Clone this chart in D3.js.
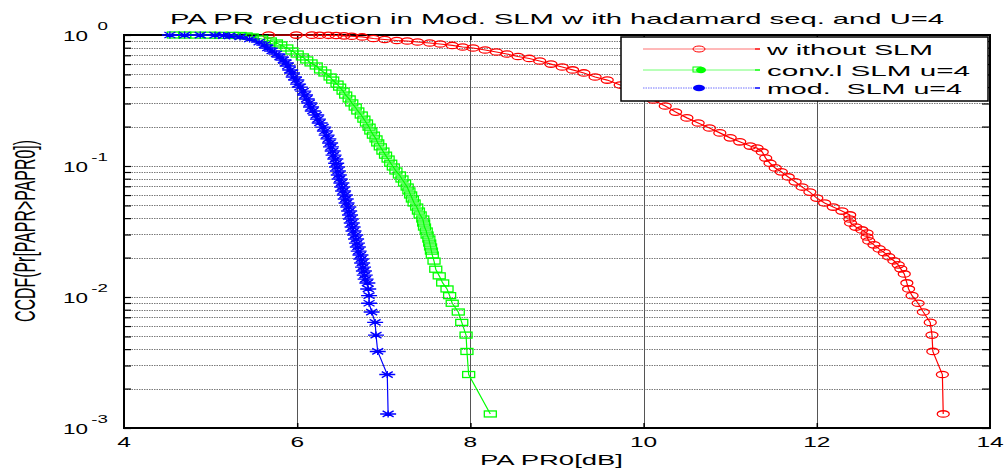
<!DOCTYPE html>
<html>
<head>
<meta charset="utf-8">
<script src="https://cdn.jsdelivr.net/npm/d3@7"></script>
<style>
  body { margin: 0; background: #fff; }
  svg text { font-family: "Liberation Sans", Arial, sans-serif; fill: #000; white-space: pre; }
</style>
</head>
<body>
<div id="chart"></div>
<script>
const width = 1008;
const height = 468;
const plot = {left: 124, right: 990, top: 35, bottom: 428};

const titleText = "PA PR reduction in Mod. SLM w ith hadamard seq. and U=4";
const xLabel = "PA PR0[dB]";
const yLabel = "CCDF(Pr[PAPR>PAPR0])";
const seriesNames = ["w ithout SLM", "conv.l SLM u=4", "mod.  SLM u=4"];
const xTicks = [4, 6, 8, 10, 12, 14];
const xGrid = [6, 8, 10, 12];
const yDecades = [1, 1e-1, 1e-2, 1e-3];
const yExponents = ["0", "-1", "-2", "-3"];

// [PAPR0 (dB), CCDF]
const withoutSLM = [
  [5.67, 1.0], [5.99, 0.9987], [6.17, 0.9974], [6.26, 0.996], [6.36, 0.995], [6.45, 0.991],
  [6.54, 0.985], [6.63, 0.978], [6.75, 0.966], [6.88, 0.940], [7.01, 0.924], [7.15, 0.908],
  [7.27, 0.900], [7.39, 0.884], [7.53, 0.869], [7.65, 0.854], [7.79, 0.832], [7.91, 0.810],
  [8.03, 0.796], [8.17, 0.768], [8.30, 0.742], [8.42, 0.716], [8.55, 0.685], [8.68, 0.662],
  [8.80, 0.633], [8.93, 0.600], [9.06, 0.570], [9.18, 0.541], [9.31, 0.513], [9.44, 0.478],
  [9.58, 0.453], [9.73, 0.415], [9.87, 0.380], [9.99, 0.348], [10.11, 0.319], [10.25, 0.287],
  [10.37, 0.258], [10.50, 0.233], [10.63, 0.213], [10.76, 0.195], [10.88, 0.179], [11.00, 0.164],
  [11.11, 0.153], [11.23, 0.142], [11.31, 0.137], [11.37, 0.128], [11.41, 0.115], [11.46, 0.105],
  [11.52, 0.0967], [11.59, 0.0902], [11.67, 0.0825], [11.75, 0.0757], [11.83, 0.0691], [11.92, 0.0632],
  [12.00, 0.0569], [12.09, 0.0522], [12.19, 0.0486], [12.29, 0.0453], [12.38, 0.0423], [12.38, 0.0394],
  [12.39, 0.0367], [12.45, 0.0342], [12.52, 0.0325], [12.58, 0.0308], [12.58, 0.0287], [12.60, 0.0268],
  [12.66, 0.0250], [12.72, 0.0233], [12.78, 0.0218], [12.83, 0.0203], [12.89, 0.0189], [12.94, 0.0176],
  [12.97, 0.0164], [13.01, 0.0150], [13.04, 0.0128], [13.06, 0.01152], [13.10, 0.01024], [13.17, 0.00896],
  [13.23, 0.00768], [13.31, 0.0064], [13.33, 0.00512], [13.34, 0.00384], [13.45, 0.00256], [13.46, 0.00128]
];

const convSLM = [
  [4.57, 1.0], [4.70, 0.999], [4.84, 0.998], [4.99, 0.997], [5.13, 0.995], [5.25, 0.993],
  [5.34, 0.991], [5.41, 0.983], [5.48, 0.966], [5.59, 0.932], [5.69, 0.900], [5.76, 0.869],
  [5.81, 0.839], [5.88, 0.796], [5.94, 0.755], [6.00, 0.716], [6.06, 0.680], [6.11, 0.645],
  [6.16, 0.612], [6.22, 0.580], [6.27, 0.541], [6.32, 0.513], [6.38, 0.478], [6.41, 0.453],
  [6.46, 0.422], [6.49, 0.400], [6.53, 0.373], [6.56, 0.348], [6.60, 0.325], [6.63, 0.303],
  [6.67, 0.282], [6.70, 0.263], [6.74, 0.245], [6.77, 0.228], [6.80, 0.213], [6.83, 0.198],
  [6.85, 0.185], [6.88, 0.172], [6.91, 0.161], [6.93, 0.150], [6.96, 0.140], [6.99, 0.130],
  [7.02, 0.121], [7.05, 0.113], [7.08, 0.105], [7.11, 0.0983], [7.14, 0.0916], [7.18, 0.0854],
  [7.21, 0.0796], [7.24, 0.0742], [7.27, 0.0691], [7.29, 0.0645], [7.31, 0.0601], [7.33, 0.0560],
  [7.35, 0.0522], [7.38, 0.0486], [7.40, 0.0453], [7.42, 0.0423], [7.45, 0.0394], [7.46, 0.0367],
  [7.47, 0.0342], [7.49, 0.0319], [7.50, 0.0297], [7.52, 0.0277], [7.53, 0.0258], [7.54, 0.0241],
  [7.55, 0.0224], [7.56, 0.0209], [7.58, 0.0188], [7.60, 0.0163], [7.64, 0.0145], [7.68, 0.0128],
  [7.73, 0.01152], [7.76, 0.01024], [7.79, 0.00896], [7.86, 0.00768], [7.90, 0.0064], [7.95, 0.00512],
  [7.96, 0.00384], [7.98, 0.00256], [8.23, 0.00128]
];

const modSLM = [
  [4.53, 1.0], [4.70, 0.999], [4.88, 0.998], [5.05, 0.996], [5.15, 0.991], [5.22, 0.983],
  [5.34, 0.966], [5.45, 0.932], [5.56, 0.884], [5.62, 0.839], [5.66, 0.796], [5.71, 0.755],
  [5.76, 0.716], [5.80, 0.680], [5.84, 0.645], [5.87, 0.612], [5.89, 0.580], [5.92, 0.541],
  [5.94, 0.513], [5.96, 0.478], [5.99, 0.453], [6.01, 0.422], [6.03, 0.400], [6.07, 0.373],
  [6.09, 0.348], [6.11, 0.325], [6.14, 0.303], [6.16, 0.282], [6.18, 0.263], [6.22, 0.245],
  [6.24, 0.228], [6.26, 0.213], [6.30, 0.198], [6.32, 0.185], [6.34, 0.172], [6.36, 0.161],
  [6.38, 0.150], [6.39, 0.140], [6.41, 0.130], [6.42, 0.121], [6.44, 0.113], [6.45, 0.105],
  [6.46, 0.0983], [6.47, 0.0916], [6.48, 0.0854], [6.49, 0.0796], [6.51, 0.0742], [6.52, 0.0691],
  [6.53, 0.0645], [6.55, 0.0601], [6.56, 0.0560], [6.57, 0.0522], [6.59, 0.0486], [6.60, 0.0453],
  [6.61, 0.0423], [6.62, 0.0394], [6.63, 0.0367], [6.64, 0.0342], [6.65, 0.0319], [6.67, 0.0297],
  [6.68, 0.0277], [6.69, 0.0258], [6.70, 0.0241], [6.71, 0.0224], [6.73, 0.0209], [6.74, 0.0195],
  [6.75, 0.0182], [6.76, 0.0169], [6.77, 0.0158], [6.78, 0.0147], [6.79, 0.0137], [6.81, 0.0128],
  [6.82, 0.01152], [6.83, 0.01024], [6.83, 0.00896], [6.86, 0.00768], [6.90, 0.0064], [6.91, 0.00512],
  [6.93, 0.00384], [7.04, 0.00256], [7.05, 0.00128]
];

const seriesColors = ["#ff0000", "#00ff00", "#0000ff"];
const seriesData = [withoutSLM, convSLM, modSLM];

const svg = d3.select("#chart").append("svg")
    .attr("width", width)
    .attr("height", height);

const x = d3.scaleLinear().domain([4, 14]).range([plot.left, plot.right]);
const y = d3.scaleLog().domain([1e-3, 1]).range([plot.bottom, plot.top]);

// every log position 1..9 in each decade
const logTicks = [];
[1e-3, 1e-2, 1e-1].forEach(d => { for (let m = 1; m < 10; m++) logTicks.push(d * m); });
logTicks.push(1);

// grid
svg.append("g").selectAll("line")
    .data(logTicks.filter(v => v > 1e-3 && v < 1))
    .enter().append("line")
    .attr("x1", plot.left).attr("x2", plot.right)
    .attr("y1", d => Math.round(y(d)) + 0.5).attr("y2", d => Math.round(y(d)) + 0.5)
    .attr("stroke", "#7a7a7a").attr("stroke-width", 1)
    .attr("stroke-dasharray", "1.5,1");

svg.append("g").selectAll("line")
    .data(xGrid)
    .enter().append("line")
    .attr("x1", d => Math.round(x(d)) + 0.5).attr("x2", d => Math.round(x(d)) + 0.5)
    .attr("y1", plot.top).attr("y2", plot.bottom)
    .attr("stroke", "#555").attr("stroke-width", 1);

// axes with inward ticks
svg.append("g")
    .attr("transform", `translate(${plot.left},0)`)
    .call(d3.axisRight(y).tickValues(logTicks).tickSize(7).tickFormat(""))
    .call(g => g.select(".domain").remove())
    .selectAll("line").attr("stroke", "#000").attr("stroke-width", 1.2);

svg.append("g")
    .attr("transform", `translate(${plot.right},0)`)
    .call(d3.axisLeft(y).tickValues(logTicks).tickSize(8).tickFormat(""))
    .call(g => g.select(".domain").remove())
    .selectAll("line").attr("stroke", "#000").attr("stroke-width", 1.2);

svg.append("g")
    .attr("transform", `translate(0,${plot.bottom})`)
    .call(d3.axisTop(x).tickValues(xGrid).tickSize(5).tickFormat(""))
    .call(g => g.select(".domain").remove())
    .selectAll("line").attr("stroke", "#000").attr("stroke-width", 1.5);

svg.append("g")
    .attr("transform", `translate(0,${plot.top})`)
    .call(d3.axisBottom(x).tickValues(xGrid).tickSize(5).tickFormat(""))
    .call(g => g.select(".domain").remove())
    .selectAll("line").attr("stroke", "#000").attr("stroke-width", 1.5);

// box
svg.append("rect")
    .attr("x", plot.left).attr("y", plot.top)
    .attr("width", plot.right - plot.left).attr("height", plot.bottom - plot.top)
    .attr("fill", "none").attr("stroke", "#000").attr("stroke-width", 2);

// tick labels
svg.append("g").selectAll("text")
    .data(xTicks)
    .enter().append("text")
    .attr("transform", d => `translate(${x(d)},447) scale(1.75,1)`)
    .attr("text-anchor", "middle")
    .attr("font-size", 14)
    .text(d => d);

const yLab = svg.append("g").selectAll("g")
    .data(yDecades)
    .enter().append("g");
yLab.append("text")
    .attr("x", 63).attr("y", d => y(d) + 6)
    .attr("font-size", 15)
    .attr("textLength", 25).attr("lengthAdjust", "spacingAndGlyphs")
    .text("10");
yLab.append("text")
    .attr("transform", d => `translate(108,${y(d) - 5}) scale(1.7,1)`)
    .attr("text-anchor", "end")
    .attr("font-size", 11)
    .text((d, i) => yExponents[i]);

// title and axis labels
svg.append("text")
    .attr("x", 170).attr("y", 24)
    .attr("font-size", 15)
    .attr("textLength", 774).attr("lengthAdjust", "spacingAndGlyphs")
    .text(titleText);

svg.append("text")
    .attr("x", 480).attr("y", 465)
    .attr("font-size", 15)
    .attr("textLength", 143).attr("lengthAdjust", "spacingAndGlyphs")
    .text(xLabel);

svg.append("text")
    .attr("transform", "translate(35,231) scale(1.9,1) rotate(-90)")
    .attr("text-anchor", "middle")
    .attr("font-size", 16)
    .attr("textLength", 182).attr("lengthAdjust", "spacingAndGlyphs")
    .text(yLabel);

// series
const line = d3.line().x(d => x(d[0])).y(d => y(d[1]));
const starPath = "M-8,0H8M0,-3.5V3.5M-5.5,-3L5.5,3M-5.5,3L5.5,-3";

function drawMarker(sel, i) {
    if (i === 0) {
        sel.append("ellipse").attr("rx", 6).attr("ry", 3.2)
            .attr("fill", "none").attr("stroke", seriesColors[i]).attr("stroke-width", 1.3);
    } else if (i === 1) {
        sel.append("rect").attr("x", -6).attr("y", -3).attr("width", 12).attr("height", 6)
            .attr("fill", "none").attr("stroke", seriesColors[i]).attr("stroke-width", 1.3);
    } else {
        sel.append("path").attr("d", starPath)
            .attr("fill", "none").attr("stroke", seriesColors[i]).attr("stroke-width", 1.4);
    }
}

seriesData.forEach((data, i) => {
    const g = svg.append("g");
    g.append("path")
        .datum(data)
        .attr("d", line)
        .attr("fill", "none")
        .attr("stroke", seriesColors[i])
        .attr("stroke-width", 1.2);
    g.selectAll("g.mk")
        .data(data)
        .enter().append("g")
        .attr("class", "mk")
        .attr("transform", d => `translate(${x(d[0])},${y(d[1])})`)
        .each(function () { drawMarker(d3.select(this), i); });
});

// legend
const legend = svg.append("g");
legend.append("rect")
    .attr("x", 621).attr("y", 37).attr("width", 367).attr("height", 64)
    .attr("fill", "#fff").attr("stroke", "#000").attr("stroke-width", 1.5);

const legendRows = [49, 70, 88];
const legendTextY = [55, 76, 94];
const legendTextW = [166, 203, 195];
seriesNames.forEach((name, i) => {
    const row = legend.append("g");
    row.append("line")
        .attr("x1", 643).attr("x2", 755).attr("y1", legendRows[i]).attr("y2", legendRows[i])
        .attr("stroke", seriesColors[i]).attr("stroke-width", 1).attr("opacity", 0.55)
        .attr("stroke-dasharray", i === 2 ? "1.5,1" : null);
    row.append("line")
        .attr("x1", 755).attr("x2", 760).attr("y1", legendRows[i]).attr("y2", legendRows[i])
        .attr("stroke", seriesColors[i]).attr("stroke-width", 1.5);
    const m = row.append("g").attr("transform", `translate(699,${legendRows[i]})`);
    if (i === 0) {
        m.append("ellipse").attr("rx", 6).attr("ry", 3)
            .attr("fill", "none").attr("stroke", seriesColors[i]).attr("stroke-width", 1);
    } else if (i === 1) {
        m.append("rect").attr("x", -6).attr("y", -3).attr("width", 8).attr("height", 5)
            .attr("fill", "none").attr("stroke", seriesColors[i]).attr("stroke-width", 1);
        m.append("ellipse").attr("cx", 2).attr("rx", 5).attr("ry", 3.2).attr("fill", seriesColors[i]);
    } else {
        m.append("ellipse").attr("rx", 6).attr("ry", 3.2).attr("fill", seriesColors[i]);
    }
    row.append("text")
        .attr("x", 767).attr("y", legendTextY[i])
        .attr("font-size", 15)
        .attr("textLength", legendTextW[i]).attr("lengthAdjust", "spacingAndGlyphs")
        .text(name);
});
</script>
</body>
</html>
